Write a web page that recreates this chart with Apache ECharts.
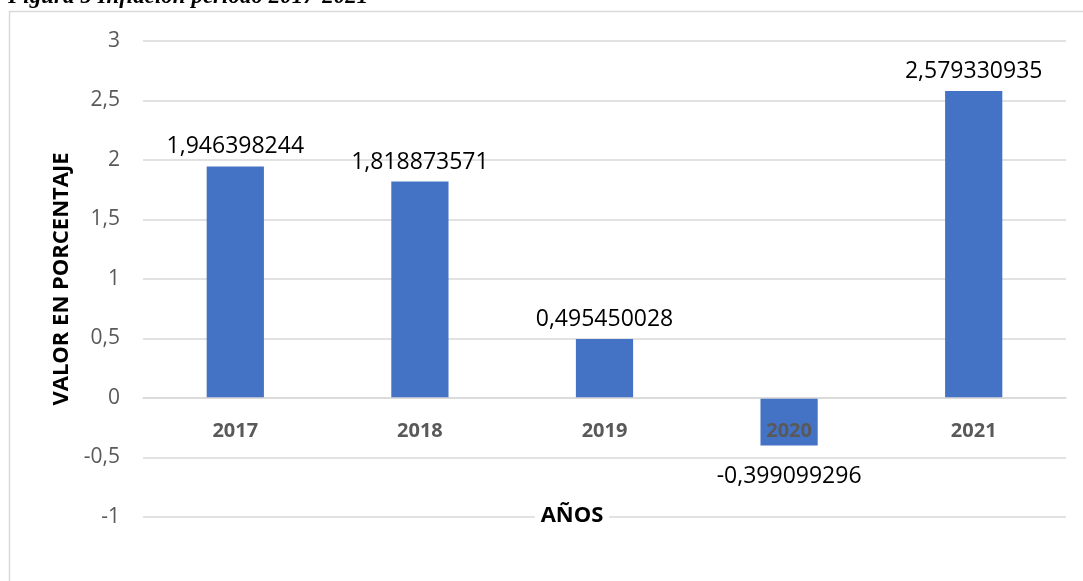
<!DOCTYPE html>
<html>
<head>
<meta charset="utf-8">
<script src="https://cdn.jsdelivr.net/npm/echarts@6/dist/echarts.min.js"></script>
<style>
  html, body { margin: 0; padding: 0; background: #fff; }
  #chart { width: 1083px; height: 581px; }
</style>
</head>
<body>
<div id="chart"></div>
<script>
const years = ['2017', '2018', '2019', '2020', '2021'];
const inflation = [1.946398244, 1.818873571, 0.495450028, -0.399099296, 2.579330935];

const fmt = v => String(v).replace('.', ',');

const chart = echarts.init(document.getElementById('chart'));

const option = {
  backgroundColor: '#fff',
  animation: false,
  textStyle: { fontFamily: 'Open Sans' },
  title: [{
    text: 'AÑOS',
    left: 566,
    top: 503,
    textAlign: 'center',
    backgroundColor: '#fff',
    padding: [2, 6],
    textStyle: { fontFamily: 'Open Sans', fontSize: 22, fontWeight: 'bold', color: '#000' }
  }],
  graphic: [
    {
      type: 'rect',
      shape: { x: 9.5, y: 11.5, width: 1100, height: 620 },
      style: { fill: 'none', stroke: '#D9D9D9', lineWidth: 1.5 },
      silent: true,
      z: -1
    },
    {
      type: 'text',
      left: 8,
      top: -14,
      style: {
        text: 'Figura 5 Inflación período 2017-2021',
        font: 'italic bold 23px "Liberation Serif"',
        fill: '#000'
      }
    }
  ],
  grid: { left: 143, right: 17, top: 41, bottom: 64 },
  xAxis: {
    type: 'category',
    data: years,
    z: 10,
    offset: -119,
    axisLine: { show: true, onZero: false, lineStyle: { color: '#D9D9D9', width: 1.5 } },
    axisTick: { show: false },
    axisLabel: { margin: 23, fontSize: 20, fontWeight: 'bold', color: '#595959' }
  },
  yAxis: {
    type: 'value',
    min: -1,
    max: 3,
    interval: 0.5,
    name: 'VALOR EN PORCENTAJE',
    nameLocation: 'middle',
    nameGap: 69,
    nameTextStyle: { fontSize: 22, fontWeight: 'bold', color: '#000' },
    axisLine: { show: false },
    axisTick: { show: false },
    axisLabel: { margin: 23, fontSize: 21, color: '#595959', formatter: v => fmt(v) },
    splitLine: { lineStyle: { color: '#D9D9D9', width: 1.5 } }
  },
  series: [{
    type: 'bar',
    barWidth: '31%',
    itemStyle: { color: '#4472C4' },
    data: inflation.map(v => ({
      value: v,
      label: v < 0 ? { position: 'bottom', distance: 19 } : { position: 'top', distance: 8 }
    })),
    label: {
      show: true,
      fontSize: 23,
      color: '#000',
      formatter: p => fmt(p.value)
    }
  }]
};

chart.setOption(option);
</script>
</body>
</html>
